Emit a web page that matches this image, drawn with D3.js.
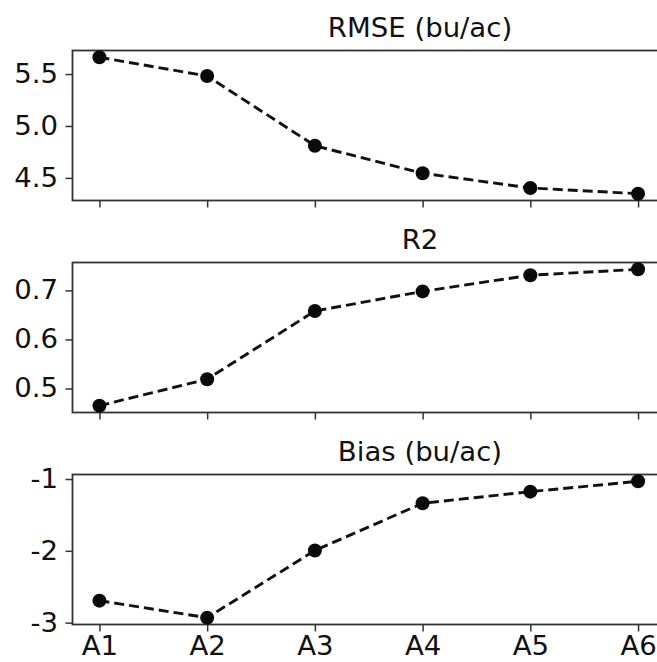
<!DOCTYPE html>
<html>
<head>
<meta charset="utf-8">
<script src="https://cdn.jsdelivr.net/npm/d3@7"></script>
<style>
  body { margin: 0; background: #fff; }
  svg { display: block; }
  text { font-family: "DejaVu Sans", sans-serif; fill: #111; }
</style>
</head>
<body>
<div id="chart"></div>
<script>
// data
var categories = ['A1', 'A2', 'A3', 'A4', 'A5', 'A6'];
var rmse = [5.661, 5.481, 4.81, 4.545, 4.403, 4.348];
var r2 = [0.465, 0.519, 0.658, 0.698, 0.731, 0.743];
var bias = [-2.694, -2.931, -1.995, -1.338, -1.176, -1.032];

var titles = ['RMSE (bu/ac)', 'R2', 'Bias (bu/ac)'];
var rmseTicks = [4.5, 5.0, 5.5];
var r2Ticks = [0.5, 0.6, 0.7];
var biasTicks = [-3, -2, -1];

var W = 657, H = 662;
var left = 72.5, right = 665;
var panelH = 150;
var tops = [50.5, 262.5, 474.5];
var fontSize = '26.5px';
var stretch = 'scale(1.04,1)';

var svg = d3.select('#chart').append('svg')
  .attr('width', W)
  .attr('height', H);

var x = d3.scalePoint()
  .domain(categories)
  .range([left, right])
  .padding(0.25);

var panels = [
  { values: rmse, ticks: rmseTicks, fmt: d3.format('.1f') },
  { values: r2, ticks: r2Ticks, fmt: d3.format('.1f') },
  { values: bias, ticks: biasTicks, fmt: function (d) { return String(d); } }
];

panels.forEach(function (p, i) {
  var top = tops[i];
  var ext = d3.extent(p.values);
  var m = (ext[1] - ext[0]) * 0.05;
  var y = d3.scaleLinear()
    .domain([ext[0] - m, ext[1] + m])
    .range([top + panelH, top]);

  var g = svg.append('g');

  // title
  g.append('text')
    .attr('transform', 'translate(420,' + (top - 14) + ') ' + stretch)
    .attr('text-anchor', 'middle')
    .attr('font-size', fontSize)
    .text(titles[i]);

  // y axis
  var ya = g.append('g')
    .attr('transform', 'translate(' + left + ',0)')
    .call(d3.axisLeft(y).tickValues(p.ticks).tickFormat(p.fmt).tickSize(7).tickPadding(7).tickSizeOuter(0));
  ya.select('.domain').remove();
  ya.selectAll('line').attr('stroke', '#333').attr('stroke-width', 1.5);
  ya.selectAll('text').attr('font-size', fontSize).attr('fill', '#111')
    .attr('font-family', '"DejaVu Sans", sans-serif')
    .attr('transform', stretch);

  // x axis ticks
  var xa = g.append('g')
    .attr('transform', 'translate(0,' + (top + panelH) + ')')
    .call(d3.axisBottom(x).tickSize(7).tickPadding(5).tickSizeOuter(0)
      .tickFormat(i === 2 ? null : function () { return ''; }));
  xa.select('.domain').remove();
  xa.selectAll('line').attr('stroke', '#333').attr('stroke-width', 1.5);
  xa.selectAll('text').attr('font-size', fontSize).attr('fill', '#111')
    .attr('font-family', '"DejaVu Sans", sans-serif')
    .attr('transform', stretch);

  // spines
  g.append('rect')
    .attr('x', left)
    .attr('y', top)
    .attr('width', right - left)
    .attr('height', panelH)
    .attr('fill', 'none')
    .attr('stroke', '#333')
    .attr('stroke-width', 1.8);

  var line = d3.line()
    .x(function (d, j) { return x(categories[j]); })
    .y(function (d) { return y(d); });

  g.append('path')
    .datum(p.values)
    .attr('d', line)
    .attr('fill', 'none')
    .attr('stroke', '#111')
    .attr('stroke-width', 2.9)
    .attr('stroke-dasharray', '10,5');

  g.selectAll('circle')
    .data(p.values)
    .enter()
    .append('circle')
    .attr('cx', function (d, j) { return x(categories[j]); })
    .attr('cy', function (d) { return y(d); })
    .attr('r', 7)
    .attr('fill', '#0a0a0a');
});
</script>
</body>
</html>
